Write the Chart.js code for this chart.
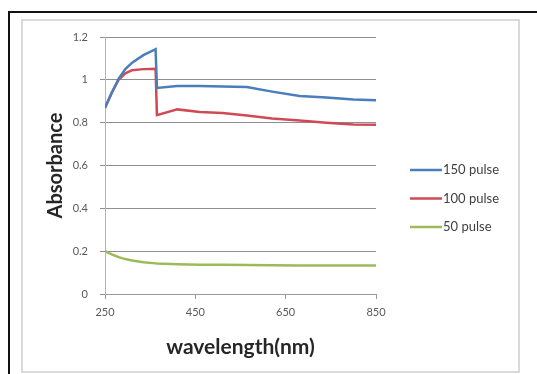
<!DOCTYPE html>
<html>
<head>
<meta charset="utf-8">
<script src="https://cdn.jsdelivr.net/npm/chart.js@4"></script>
<style>
  body { margin: 0; background: #fff; overflow: hidden; }
  #wrap { position: relative; width: 537px; height: 374px; }
  .blk { position: absolute; background: #111; }
  #frame { position: absolute; left: 21px; top: 19px; width: 495px; height: 350px; border: 2px solid #dadada; }
  canvas { position: absolute; left: 0; top: 0; }
</style>
</head>
<body>
<div id="wrap">
  <div class="blk" style="left:8px;top:11px;width:529px;height:2px"></div>
  <div class="blk" style="left:8px;top:11px;width:2px;height:363px"></div>
  <div id="frame"></div>
  <canvas id="chart" width="537" height="374"></canvas>
</div>
<script>
// data
const wavelengths = [250, 265, 280, 295, 310, 335, 362, 365, 410, 460, 510, 564, 620, 681, 740, 800, 850];
const pulse150 = [0.87, 0.94, 1.005, 1.05, 1.08, 1.115, 1.143, 0.962, 0.971, 0.971, 0.969, 0.966, 0.945, 0.925, 0.918, 0.908, 0.905];
const pulse100 = [0.87, 0.94, 1.0, 1.03, 1.045, 1.05, 1.052, 0.835, 0.862, 0.85, 0.845, 0.833, 0.82, 0.81, 0.8, 0.792, 0.79];
const pulse50 = [0.2, 0.185, 0.172, 0.163, 0.156, 0.148, 0.143, 0.142, 0.139, 0.137, 0.136, 0.135, 0.134, 0.133, 0.133, 0.133, 0.133];
const seriesNames = ["150 pulse", "100 pulse", "50 pulse"];
const xTicks = [250, 450, 650, 850];
const yTicks = [0, 0.2, 0.4, 0.6, 0.8, 1, 1.2];

const colors = ["#4a7ebb", "#cf4a55", "#9bbb59"];
const FONT = "Lato, 'Open Sans', sans-serif";

function toPoints(ys) {
  return wavelengths.map((x, i) => ({ x: x, y: ys[i] }));
}

// legend drawn by hand, Excel style (line then label)
const sideLegend = {
  id: "sideLegend",
  afterDraw(chart) {
    const ctx = chart.ctx;
    ctx.save();
    ctx.font = "13px " + FONT;
    ctx.textBaseline = "middle";
    ctx.fillStyle = "#404040";
    chart.data.datasets.forEach((ds, i) => {
      const y = 170 + i * 28.5;
      ctx.strokeStyle = ds.borderColor;
      ctx.lineWidth = 2.5;
      ctx.beginPath();
      ctx.moveTo(410, y);
      ctx.lineTo(442, y);
      ctx.stroke();
      ctx.fillText(ds.label, 443, y);
    });
    ctx.restore();
  }
};

const ctx = document.getElementById("chart").getContext("2d");
new Chart(ctx, {
  type: "line",
  data: {
    datasets: [pulse150, pulse100, pulse50].map((ys, i) => ({
      label: seriesNames[i],
      data: toPoints(ys),
      borderColor: colors[i],
      backgroundColor: colors[i],
      borderWidth: 2.5,
      pointRadius: 0,
      tension: 0
    }))
  },
  options: {
    responsive: false,
    animation: false,
    layout: { padding: { top: 37, right: 161, left: 0, bottom: 0 } },
    plugins: { legend: { display: false }, tooltip: { enabled: false } },
    scales: {
      x: {
        type: "linear",
        min: 250,
        max: 850,
        afterBuildTicks: s => { s.ticks = xTicks.map(v => ({ value: v })); },
        afterFit: s => { s.height = 80; },
        grid: { drawOnChartArea: false, color: "#9a9a9a", tickLength: 5 },
        border: { color: "#9a9a9a" },
        ticks: { font: { size: 11, family: FONT }, color: "#595959", padding: 7, maxRotation: 0 },
        title: {
          display: true,
          text: "wavelength(nm)",
          font: { size: 21, weight: "bold", family: FONT },
          color: "#262626",
          padding: { top: 0, bottom: 14 }
        }
      },
      y: {
        min: 0,
        max: 1.2,
        afterBuildTicks: s => { s.ticks = yTicks.map(v => ({ value: v })); },
        afterFit: s => { s.width = 105; },
        grid: { color: "#8f8f8f", tickLength: 5 },
        border: { color: "#b5b5b5" },
        ticks: {
          font: { size: 11, family: FONT },
          color: "#595959",
          padding: 12,
          callback: v => String(Math.round(v * 10) / 10)
        },
        title: {
          display: true,
          text: "Absorbance",
          font: { size: 20, weight: "bold", family: FONT },
          color: "#262626",
          padding: { top: 44, bottom: 0 }
        }
      }
    }
  },
  plugins: [sideLegend]
});
</script>
</body>
</html>
